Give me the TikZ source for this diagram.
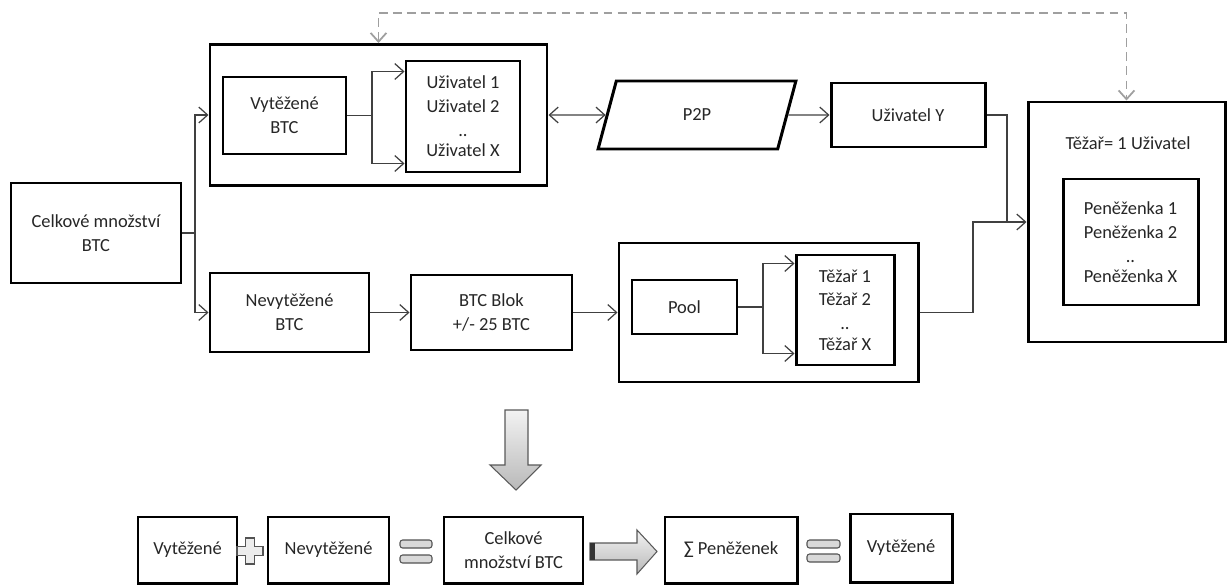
\documentclass[tikz,border=0pt]{standalone}
\usepackage{fontspec}
\setmainfont{Carlito}
\usetikzlibrary{arrows.meta,shapes.geometric,calc}

\begin{document}
\begin{tikzpicture}[x=0.02cm,y=-0.02cm,
		>={Straight Barb[length=5pt,width=9pt]},
		wh/.style 2 args={minimum width=#1*0.02cm,minimum height=#2*0.02cm},
		box/.style={draw,line width=1.7pt,align=center,text=black!85,inner sep=0pt},
		link/.style={line width=0.7pt,color=black!75},
		dashlink/.style={line width=1pt,color=gray!75,dash pattern=on 5pt off 3pt},
		bigarrow/.style={draw=gray!70!black,line width=0.6pt,top color=gray!10,bottom color=gray!55},
		sign/.style={draw=gray!65!black,line width=0.6pt,fill=gray!30},
		every node/.style={font=\fontsize{10.5}{13.6}\selectfont}]
	\useasboundingbox (0,0) rectangle (1228,585);
	{
	% upper part
	\node[box,wh={170}{100}] (celk) at (96,233) {Celkové množství\\BTC};
	\node[box,wh={337}{141}] (upper) at (378.5,115) {};
	\node[box,wh={123}{77}] (vyt) at (284.5,115.5) {Vytěžené\\BTC};
	\node[box,wh={114}{111}] (uziv) at (463,116.5) {Uživatel 1\\Uživatel 2\\..\\[-2pt]Uživatel X};
	\node[box,trapezium,trapezium left angle=75,trapezium right angle=105,trapezium stretches=true,wh={198}{68}] (p2p) at (697,115) {P2P};
	\node[box,wh={154}{64}] (uzY) at (908,115) {Uživatel Y};
	\node[box,wh={197}{240}] (tezbox) at (1126.5,222) {};
	\node[text=black!85] (tezTitle) at (1128,143) {Těžař= 1 Uživatel};
	\node[box,wh={135}{126}] (pen) at (1130.5,242) {Peněženka 1\\Peněženka 2\\..\\[-2pt]Peněženka X};
	\node[box,wh={159}{79}] (nevyt) at (289.5,312.5) {Nevytěžené\\BTC};
	\node[box,wh={161}{75}] (blok) at (491.5,312.5) {BTC Blok\\+/- 25 BTC};
	\node[box,wh={299}{139}] (lower) at (768.5,312.5) {};
	\node[box,wh={105}{54}] (pool) at (684.5,307) {Pool};
	\node[box,wh={98}{110}] (tez) at (845,310) {Těžař 1\\Těžař 2\\..\\[-2pt]Těžař X};

	\coordinate (splitA) at (195,233);
	\coordinate (splitB) at (372,115.5);
	\coordinate (splitC) at (763,307);
	\coordinate (uzivTop) at ($(uziv.north west)+(0,12)$);
	\coordinate (uzivBot) at ($(uziv.south west)+(0,-10)$);
	\coordinate (tezTop) at ($(tez.north west)+(0,10)$);
	\coordinate (tezBot) at ($(tez.south west)+(0,-13)$);
	\coordinate (mergeA) at (973,222);
	\coordinate (mergeB) at (1007,222);
	\coordinate (dashy) at (0,13);

	\draw[link] (celk.east) -- (splitA);
	\draw[link,->] (splitA) |- (upper.west);
	\draw[link,->] (splitA) |- (nevyt.west);
	\draw[link] (vyt.east) -- (splitB);
	\draw[link,->] (splitB) |- (uzivTop);
	\draw[link,->] (splitB) |- (uzivBot);
	\draw[link,<->] (upper.east) -- (p2p.west);
	\draw[link,->] (p2p.east) -- (uzY.west);
	\draw[link] (uzY.east) -| (mergeB);
	\draw[link,->] (nevyt.east) -- (blok.west);
	\draw[link,->] (blok.east) -- (lower.west);
	\draw[link] (pool.east) -- (splitC);
	\draw[link,->] (splitC) |- (tezTop);
	\draw[link,->] (splitC) |- (tezBot);
	\draw[link] (lower.east) -| (mergeA) -- (mergeB);
	\draw[link,->] (mergeB) -- (tezbox.west);
	\draw[dashlink,<->] (upper.north) -- (upper.north |- dashy) -| (tezbox.north);

	% summary
	\draw[bigarrow] (505,410) -- (528,410) -- (528,465) -- (541,465) -- (516,490) -- (490,465) -- (505,465) -- cycle;
	\node[box,wh={99}{66}] (bVyt) at (187.5,550) {Vytěžené};
	\node[box,wh={121}{66}] (bNevyt) at (328.5,550) {Nevytěžené};
	\node[box,wh={139}{66}] (bCelk) at (513.5,550) {Celkové\\množství BTC};
	\node[box,wh={132}{66}] (bSum) at (731,550) {∑ Peněženek};
	\node[box,wh={102}{68}] (bVyt2) at (901,548) {Vytěžené};
	\draw[sign,fill=gray!15] (245.5,538) -- (254.5,538) -- (254.5,546.5) -- (263,546.5) -- (263,555.5) -- (254.5,555.5) -- (254.5,564) -- (245.5,564) -- (245.5,555.5) -- (237,555.5) -- (237,546.5) -- (245.5,546.5) -- cycle;
	\draw[sign,rounded corners=1.5pt] (400,540) rectangle (432,548) (400,555) rectangle (432,563);
	\draw[bigarrow] (590,543) -- (637,543) -- (637,530) -- (657,551.5) -- (637,574) -- (637,560) -- (590,560) -- cycle;
	\fill[black!80] (590,543) rectangle (595,560);
	\draw[sign,rounded corners=1.5pt] (807,540) rectangle (840,548) (807,554) rectangle (840,562);
	}
\end{tikzpicture}
\end{document}
